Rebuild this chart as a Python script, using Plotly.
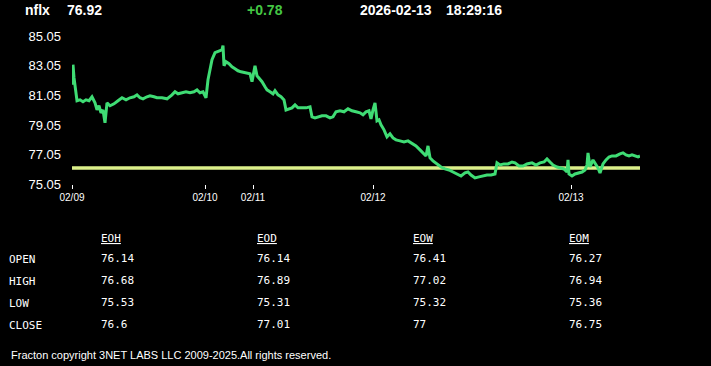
import plotly.graph_objects as go

# ---------------- data ----------------
symbol = "nflx"
last_price = "76.92"
change = "+0.78"
stamp_date = "2026-02-13"
stamp_time = "18:29:16"

# sample index (intraday trading time, gaps removed) and price
t_idx = [0, 1, 2, 4, 5, 8, 11, 14, 17, 20, 23, 25, 27, 29, 31, 33, 35, 38, 42, 46,
         50, 54, 58, 62, 65, 68, 71, 75, 78, 82, 85, 90, 95, 100, 103, 106, 110, 114, 118, 122,
         125, 128, 131, 134, 136, 138, 140, 143, 146, 148, 150, 151, 152, 154, 157, 160, 163, 166, 169, 173,
         176, 178, 180, 182, 183, 185, 188, 190, 193, 195, 198, 201, 203, 206, 209, 212, 214, 217, 220, 223,
         226, 230, 234, 238, 240, 243, 246, 250, 254, 258, 261, 264, 268, 272, 276, 280, 284, 288, 291, 294,
         297, 299, 301, 303, 305, 307, 309, 312, 315, 318, 321, 324, 328, 332, 336, 340, 344, 348, 351, 354,
         356, 358, 361, 365, 369, 373, 377, 381, 385, 389, 393, 396, 399, 403, 407, 411, 415, 419, 423, 425,
         428, 432, 436, 440, 443, 447, 451, 455, 460, 464, 468, 472, 475, 478, 481, 485, 489, 492, 495, 496,
         497, 500, 503, 506, 510, 513, 515, 516, 518, 521, 524, 526, 528, 531, 534, 537, 540, 544, 548, 551,
         554, 557, 560, 563, 566, 568]
price = [81.77, 83.13, 82.25, 81.09, 80.69, 80.75, 80.62, 80.75, 80.69, 80.96, 80.55, 80.07, 80.35, 79.87, 80.07, 79.19, 80.55, 80.35, 80.48, 80.69,
         80.89, 80.75, 80.89, 80.96, 81.09, 80.89, 80.82, 80.96, 81.03, 80.96, 80.89, 80.89, 80.82, 81.09, 81.30, 81.16, 81.23, 81.30, 81.23, 81.30,
         81.43, 81.23, 81.30, 80.89, 82.11, 82.93, 83.47, 83.95, 84.01, 84.08, 84.15, 84.42, 83.06, 83.33, 83.20, 82.99, 82.86, 82.72, 82.65, 82.59,
         82.59, 82.52, 81.98, 82.79, 83.06, 82.38, 82.18, 81.98, 81.64, 81.43, 81.30, 81.16, 81.37, 81.09, 80.96, 80.75, 80.07, 80.14, 80.21, 80.41,
         80.21, 80.21, 80.21, 80.28, 79.60, 79.53, 79.60, 79.67, 79.67, 79.53, 79.60, 79.94, 80.01, 79.94, 80.14, 80.01, 79.94, 79.87, 79.74, 79.94,
         80.01, 79.46, 80.07, 80.55, 79.33, 79.40, 79.06, 78.72, 78.24, 78.45, 78.17, 78.04, 77.97, 77.90, 77.97, 77.77, 77.63, 77.36, 77.16, 76.95,
         77.63, 76.82, 76.61, 76.41, 76.20, 76.07, 76.00, 75.86, 75.73, 75.59, 75.80, 75.86, 75.66, 75.46, 75.53, 75.59, 75.66, 75.66, 75.73, 76.48,
         76.34, 76.41, 76.41, 76.54, 76.48, 76.27, 76.27, 76.41, 76.48, 76.34, 76.48, 76.54, 76.75, 76.54, 76.34, 76.20, 76.14, 76.07, 75.86, 76.68,
         75.73, 75.59, 75.73, 75.80, 75.86, 76.00, 76.34, 77.16, 76.20, 76.68, 76.34, 76.14, 75.80, 76.41, 76.68, 76.88, 76.95, 76.95, 77.09, 77.16,
         77.02, 76.95, 77.02, 76.95, 76.88, 76.95]

day_tick_idx = [0, 133, 181, 301, 499]
day_tick_text = ["02/09", "02/10", "02/11", "02/12", "02/13"]
y_ticks = [75.05, 77.05, 79.05, 81.05, 83.05, 85.05]
ref_open = 76.14  # open reference line

periods = ["EOH", "EOD", "EOW", "EOM"]
row_names = ["OPEN", "HIGH", "LOW", "CLOSE"]
table_vals = {
    "EOH": ["76.14", "76.68", "75.53", "76.6"],
    "EOD": ["76.14", "76.89", "75.31", "77.01"],
    "EOW": ["76.41", "77.02", "75.32", "77"],
    "EOM": ["76.27", "76.94", "75.36", "76.75"],
}
footer = "Fracton copyright 3NET LABS LLC 2009-2025.All rights reserved."

# ---------------- layout geometry ----------------
W, H = 711, 366
PL, PR, PT, PB = 72, 640, 29, 184

def px(x):
    return (x - PL) / (PR - PL)

def py(y):
    return (PB - y) / (PB - PT)

fig = go.Figure()
fig.add_trace(go.Scatter(x=[t_idx[0], t_idx[-1]], y=[ref_open, ref_open], mode="lines",
                         line=dict(color="#dcf08a", width=3.5), hoverinfo="skip"))
fig.add_trace(go.Scatter(x=t_idx, y=price, mode="lines",
                         line=dict(color="#3fdc74", width=3), hoverinfo="skip"))

ann = []
def text(x, y, s, size, color="white", family="Liberation Sans, Arial", xanchor="left"):
    ann.append(dict(x=px(x), y=py(y), xref="paper", yref="paper", text=s, showarrow=False,
                    xanchor=xanchor, yanchor="middle", font=dict(size=size, color=color, family=family)))

text(23, 10, f"<b>{symbol}</b>", 14)
text(65, 10, f"<b>{last_price}</b>", 14)
text(245, 10, f"<b>{change}</b>", 14, color="#44c744")
text(358, 10, f"<b>{stamp_date}</b>", 14)
text(444, 10, f"<b>{stamp_time}</b>", 14)

mono = "DejaVu Sans Mono, monospace"
col_x = [99, 255, 411, 567]
row_y = [259, 281, 303, 325]
for cx, p in zip(col_x, periods):
    text(cx, 238, f"<u>{p}</u>", 11, family=mono)
    for ry, v in zip(row_y, table_vals[p]):
        text(cx, ry - 1, v, 11, family=mono)
for ry, r in zip(row_y, row_names):
    text(7, ry, r, 11, family=mono)

text(9, 355, footer, 11)

fig.update_layout(
    width=W, height=H, margin=dict(l=PL, r=W - PR, t=PT, b=H - PB),
    paper_bgcolor="black", plot_bgcolor="black", showlegend=False,
    annotations=ann,
    xaxis=dict(range=[t_idx[0], t_idx[-1]], tickvals=day_tick_idx, ticktext=day_tick_text,
               showgrid=False, zeroline=False, showline=False,
               ticks="outside", ticklen=4, tickcolor="white", tickwidth=1,
               tickfont=dict(size=10, color="white", family="Liberation Sans, Arial")),
    yaxis=dict(range=[75.05, 85.55], tickvals=y_ticks, ticktext=[f"{v:.2f}" for v in y_ticks],
               showgrid=False, zeroline=False, showline=False, ticks="",
               ticklabelstandoff=10,
               tickfont=dict(size=13, color="white", family="Liberation Sans, Arial")),
)

fig.write_html("out.html")
